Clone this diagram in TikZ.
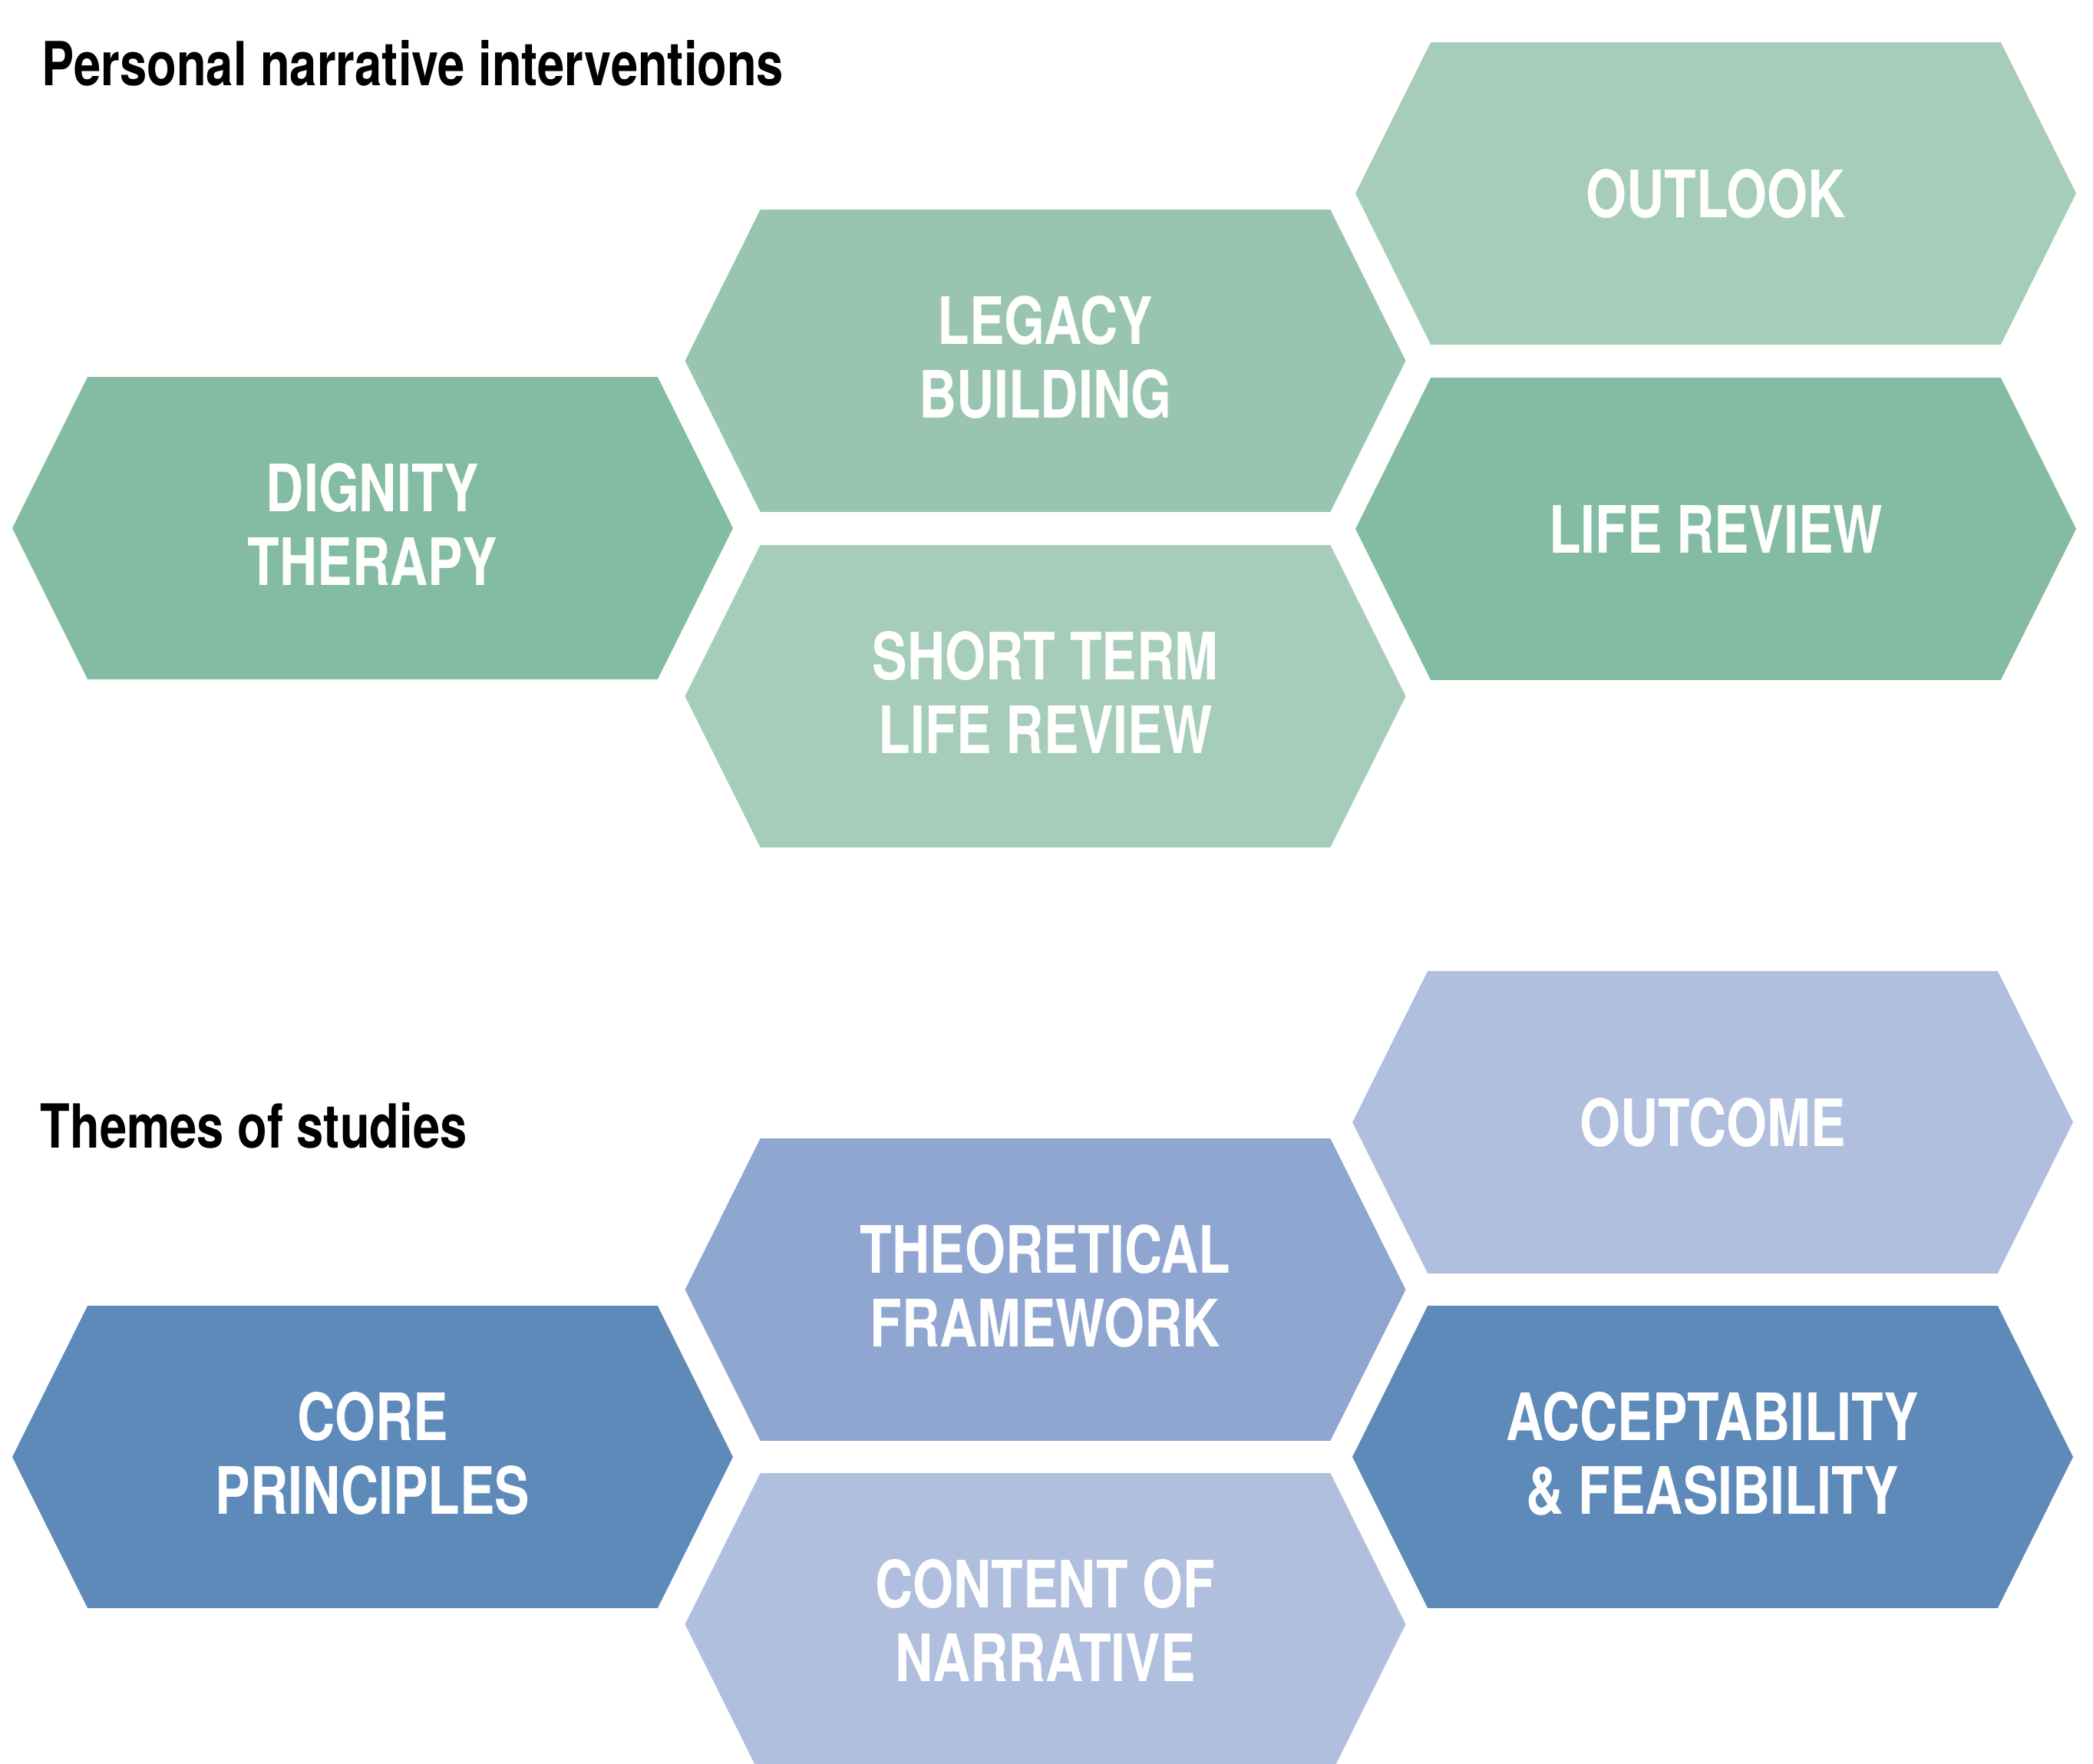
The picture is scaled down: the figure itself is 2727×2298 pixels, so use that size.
\documentclass[tikz,border=0pt]{standalone}
\usepackage{fontspec}
\setmainfont{TeX Gyre Heros}[FakeStretch=0.8]
\usetikzlibrary{positioning,backgrounds}

\definecolor{greendark}{RGB}{132,187,163}
\definecolor{greenmid}{RGB}{153,197,176}
\definecolor{greenlight}{RGB}{166,204,186}
\definecolor{bluedark}{RGB}{94,138,186}
\definecolor{bluemid}{RGB}{143,166,208}
\definecolor{bluelight}{RGB}{176,191,222}

% fill a hexagon behind a named box
\newcommand{\hexfill}[2]{%
  \fill[#2] (#1.west) -- ([xshift=\hexcut]#1.north west) -- ([xshift=-\hexcut]#1.north east)
    -- (#1.east) -- ([xshift=-\hexcut]#1.south east) -- ([xshift=\hexcut]#1.south west) -- cycle;}

\begin{document}
\begin{tikzpicture}[x=0.01cm, y=-0.01cm,
    hexbox/.style={rectangle, minimum width=\hexw, minimum height=\hexh, inner sep=0pt,
        text=white, align=center, font=\fontsize{24.2}{27.3}\selectfont\bfseries},
    twoline/.style={text depth=0.1cm},
    heading/.style={anchor=base west, inner sep=0pt, font=\fontsize{22.5}{26}\selectfont\bfseries}]
        \def\hexw{9.37cm}
        \def\hexh{3.92cm}
        \def\hexcut{0.98cm}

        \useasboundingbox (0, 0) rectangle (2727, 2298);

        % personal narrative interventions
        \node[heading] (head1) at (54, 112) {Personal narrative interventions};
        \node[hexbox, twoline] (dignity) at (485.5, 688) {DIGNITY\\THERAPY};
        \node[hexbox, twoline] (legacy) at (1362, 470) {LEGACY\\BUILDING};
        \node[hexbox, twoline] (shortterm) at (1362, 907) {SHORT TERM\\LIFE REVIEW};
        \node[hexbox] (outlook) at (2235.5, 252) {OUTLOOK};
        \node[hexbox] (lifereview) at (2235.5, 689) {LIFE REVIEW};

        % themes of studies
        \node[heading] (head2) at (52, 1495) {Themes of studies};
        \node[hexbox, twoline] (core) at (485.5, 1898) {CORE\\PRINCIPLES};
        \node[hexbox, twoline] (theory) at (1362, 1680) {THEORETICAL\\FRAMEWORK};
        \node[hexbox, twoline] (content) at (1362, 2116) {CONTENT OF\\NARRATIVE};
        \node[hexbox] (outcome) at (2231.5, 1462) {OUTCOME};
        \node[hexbox, twoline] (accept) at (2231.5, 1898) {ACCEPTABILITY\\\& FEASIBILITY};

        \begin{scope}[on background layer]
            \hexfill{dignity}{greendark}
            \hexfill{legacy}{greenmid}
            \hexfill{shortterm}{greenlight}
            \hexfill{outlook}{greenlight}
            \hexfill{lifereview}{greendark}
            \hexfill{core}{bluedark}
            \hexfill{theory}{bluemid}
            \hexfill{content}{bluelight}
            \hexfill{outcome}{bluelight}
            \hexfill{accept}{bluedark}
        \end{scope}
    \end{tikzpicture}
\end{document}
